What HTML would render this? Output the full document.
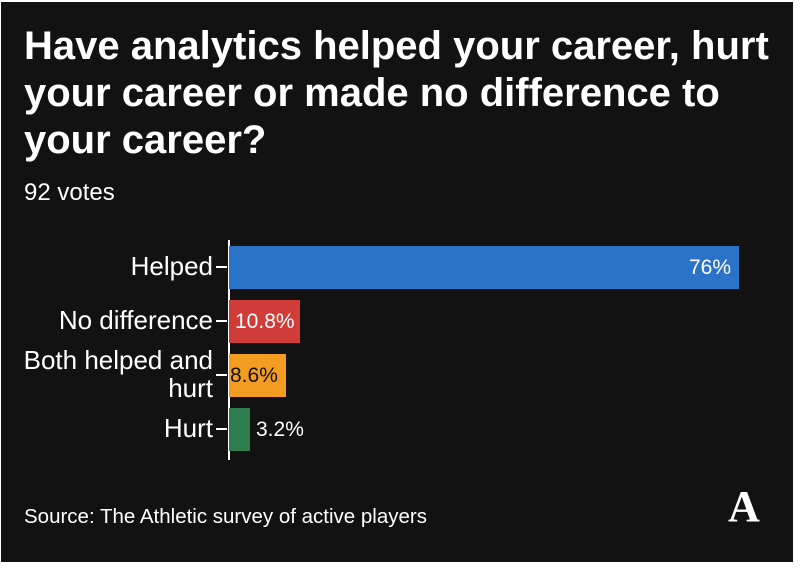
<!DOCTYPE html>
<html><head><style>
html,body{margin:0;padding:0;background:#fff;}
#c{position:absolute;left:1px;top:2px;width:792px;height:560px;background:#121212;font-family:"Liberation Sans",sans-serif;color:#fff;overflow:hidden;}
.t{position:absolute;left:23px;top:21px;font-weight:bold;font-size:40px;line-height:47px;white-space:nowrap;letter-spacing:0px;}
.v{position:absolute;left:23px;top:177px;font-size:24px;}
.lab{position:absolute;right:580px;font-size:26px;text-align:right;line-height:28px;}
.tick{position:absolute;left:215px;width:11px;height:2px;background:#fff;}
.bar{position:absolute;left:228px;}
.val{position:absolute;font-size:21px;}
.src{position:absolute;left:23px;top:503px;font-size:20.5px;}
</style></head><body>
<div id="c">
<div class="t">Have analytics helped your career, hurt<br>your career or made no difference to<br>your career?</div>
<div class="v">92 votes</div>
<div style="position:absolute;left:227px;top:238px;width:2px;height:220px;background:#fff"></div>
<div class="bar" style="top:244px;width:510px;height:43px;background:#2b72c9"></div>
<div class="bar" style="top:298px;width:71px;height:43px;background:#d03c38"></div>
<div class="bar" style="top:352px;width:57px;height:43px;background:#f29d22"></div>
<div class="bar" style="top:406px;width:21px;height:43px;background:#2e7d4f"></div>
<div class="tick" style="top:264px"></div>
<div class="tick" style="top:318px"></div>
<div class="tick" style="top:372px"></div>
<div class="tick" style="top:426px"></div>
<div class="lab" style="top:250px">Helped</div>
<div class="lab" style="top:304px">No difference</div>
<div class="lab" style="top:344px">Both helped and<br>hurt</div>
<div class="lab" style="top:412px">Hurt</div>
<div class="val" style="left:688px;top:254px">76%</div>
<div class="val" style="left:234px;top:308px">10.8%</div>
<div class="val" style="left:229px;top:362px;color:#111">8.6%</div>
<div class="val" style="left:255px;top:416px">3.2%</div>
<div class="src">Source: The Athletic survey of active players</div>
<div style="position:absolute;left:727px;top:483px;font-family:'Liberation Serif',serif;font-weight:bold;font-size:44px;line-height:44px;color:#fff">A</div>
</div>
</body></html>
